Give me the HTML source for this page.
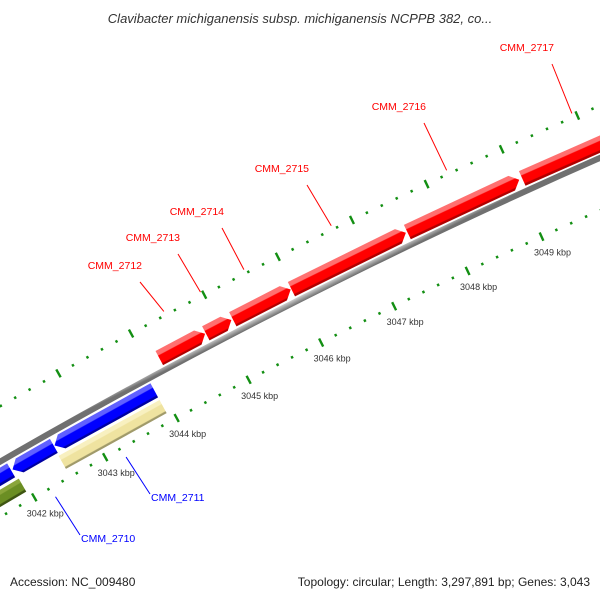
<!DOCTYPE html>
<html><head><meta charset="utf-8"><style>
html,body{margin:0;padding:0;background:#fff;}
svg{display:block;font-family:"Liberation Sans",sans-serif;}
</style></head><body>
<svg id="chart" width="600" height="600" viewBox="0 0 600 600" xmlns="http://www.w3.org/2000/svg">
<defs id="defs"></defs>
<text x="300" y="23" text-anchor="middle" font-size="13" font-style="italic" fill="#333">Clavibacter michiganensis subsp. michiganensis NCPPB 382, co...</text>
<g id="ticks"></g>
<g id="backbone"></g>
<g id="genes"></g>
<g id="labels"></g>
<text x="10" y="586" font-size="12" fill="#222">Accession: NC_009480</text>
<text x="590" y="586" font-size="12" fill="#222" text-anchor="end">Topology: circular; Length: 3,297,891 bp; Genes: 3,043</text>
</svg>
<script>
// ---- data ----
const geneNames = ["CMM_2712","CMM_2713","CMM_2714","CMM_2715","CMM_2716","CMM_2717","CMM_2711","CMM_2710","yellow-feature","olive-feature","blue-feature-left"];
const geneStarts = [3044.16,3044.80,3045.17,3045.97,3047.54,3049.08,3042.53,3041.94,3042.51,3040.00,3040.00];
const geneEnds   = [3044.79,3045.15,3045.96,3047.52,3049.04,3050.82,3043.92,3042.52,3043.92,3041.95,3041.92];
const geneStrands = [1,1,1,1,1,1,-1,-1,0,0,-1];
const geneTracks = ["fwd","fwd","fwd","fwd","fwd","fwd","rev","rev","rev2","rev2","rev"];
const geneColors = ["red","red","red","red","red","red","blue","blue","yellow","olive","blue"];
const tickMin = 3040, tickMax = 3052, tickStep = 0.2;
const labeledGenes = ["CMM_2712","CMM_2713","CMM_2714","CMM_2715","CMM_2716","CMM_2717","CMM_2711","CMM_2710"];
// layout (screen positions of label text anchors, not data)
const labelAnchorX = [140,178,222,307,424,552,150,80];
const labelAnchorY = [282,254,228,185,123,64,494,535];

// ---- geometry ----
const CX=3050, CY=5741, R=6097;
const A0=-28.36, DEG_PER_KBP=0.772;
function ang(k){return (A0+(k-3044)*DEG_PER_KBP)*Math.PI/180;}
function pt(k,r){const a=ang(k);return [CX+r*Math.sin(a), CY-r*Math.cos(a)];}
const NS="http://www.w3.org/2000/svg";
function mk(tag){return document.createElementNS(NS,tag);}
const palette={
 red:["#ff7070","#ff0000","#b00000"],
 blue:["#6060ff","#0000ff","#0000a0"],
 yellow:["#f8f0c0","#efe3a0","#a09a6a"],
 olive:["#8aa53a","#6b8e23","#3e5512"]
};
const trackR={fwd:[R+5,R+21],rev:[R-21,R-5],rev2:[R-39,R-24]};
const defs=document.getElementById('defs');

// ticks
const tg=document.getElementById('ticks');
const nT=Math.round((tickMax-tickMin)/tickStep);
for(let i=0;i<=nT;i++){
  const k=tickMin+i*tickStep;
  const major=Math.abs(k-Math.round(k))<1e-6;
  [R+48,R-48].forEach(function(rr){
    const h=major?4.5:1.3;
    const p1=pt(k,rr-h),p2=pt(k,rr+h);
    const l=mk('line');
    
    
    l.setAttribute('x1',p1[0]);l.setAttribute('y1',p1[1]);
    l.setAttribute('x2',p2[0]);l.setAttribute('y2',p2[1]);
    l.setAttribute('stroke','#138f13');l.setAttribute('stroke-width','2.4');
    tg.appendChild(l);
  });
  if(major){
    const p=pt(k,R-48);
    const t=mk('text');
    
    
    t.setAttribute('x',p[0]+11);t.setAttribute('y',p[1]+19);
    t.setAttribute('text-anchor','middle');t.setAttribute('font-size','9');t.setAttribute('fill','#333');
    t.textContent=Math.round(k)+' kbp';
    tg.appendChild(t);
  }
}

// backbone
(function(){
  const g=document.getElementById('backbone');
  const k1=3038,k2=3054;
  const gr=mk('linearGradient');gr.setAttribute('id','gbb');gr.setAttribute('gradientUnits','userSpaceOnUse');
  const a=pt(3046,R+3),b=pt(3046,R-3);
  gr.setAttribute('x1',a[0]);gr.setAttribute('y1',a[1]);gr.setAttribute('x2',b[0]);gr.setAttribute('y2',b[1]);
  [['0','#d0d0d0'],['0.4','#a8a8a8'],['1','#707070']].forEach(function(s){const st=mk('stop');st.setAttribute('offset',s[0]);st.setAttribute('stop-color',s[1]);gr.appendChild(st);});
  defs.appendChild(gr);
  const pts=[];
  for(let k=k1;k<=k2;k+=0.5)pts.push(pt(k,R+3));
  for(let k=k2;k>=k1;k-=0.5)pts.push(pt(k,R-3));
  const p=mk('polygon');
  
  
  p.setAttribute('points',pts.map(q=>q.join(',')).join(' '));
  p.setAttribute('fill','url(#gbb)');
  g.appendChild(p);
})();

// genes
const gg=document.getElementById('genes');
const geneMid={};
for(let i=0;i<geneNames.length;i++){
  const k1=geneStarts[i],k2=geneEnds[i],s=geneStrands[i];
  const rr=trackR[geneTracks[i]],r1=rr[0],r2=rr[1],rm=(r1+r2)/2;
  geneMid[geneNames[i]]=[(k1+k2)/2,geneTracks[i]];
  const aL=0.1;
  let pts=[];
  if(s===1){
    const kb=Math.max(k1,k2-aL);
    pts=[pt(k1,r1),pt(k1,r2),pt(kb,r2),pt(k2,rm),pt(kb,r1)];
  }else if(s===-1){
    const kb=Math.min(k2,k1+aL);
    pts=[pt(k1,rm),pt(kb,r2),pt(k2,r2),pt(k2,r1),pt(kb,r1)];
  }else{
    pts=[pt(k1,r1),pt(k1,r2),pt(k2,r2),pt(k2,r1)];
  }
  const c=palette[geneColors[i]];
  const gid='gg'+i;
  const gr=mk('linearGradient');gr.setAttribute('id',gid);gr.setAttribute('gradientUnits','userSpaceOnUse');
  const a=pt((k1+k2)/2,r2),b=pt((k1+k2)/2,r1);
  gr.setAttribute('x1',a[0]);gr.setAttribute('y1',a[1]);gr.setAttribute('x2',b[0]);gr.setAttribute('y2',b[1]);
  [['0',c[0]],['0.3',c[0]],['0.36',c[1]],['0.84',c[1]],['0.9',c[2]],['1',c[2]]].forEach(function(st0){const st=mk('stop');st.setAttribute('offset',st0[0]);st.setAttribute('stop-color',st0[1]);gr.appendChild(st);});
  defs.appendChild(gr);
  const p=mk('polygon');
  
  
  p.setAttribute('points',pts.map(q=>q.join(',')).join(' '));
  p.setAttribute('fill','url(#'+gid+')');
  gg.appendChild(p);
}

// labels
const lg=document.getElementById('labels');
for(let i=0;i<labeledGenes.length;i++){
  const nm=labeledGenes[i];
  const m=geneMid[nm];
  const fwd=m[1]==='fwd';
  const s=pt(m[0],fwd?R+52:R-58);
  const ex=labelAnchorX[i],ey=labelAnchorY[i];
  const col=fwd?'#ff0000':'#0000ff';
  const l=mk('line');
  
  
  l.setAttribute('x1',s[0]);l.setAttribute('y1',s[1]);l.setAttribute('x2',ex);l.setAttribute('y2',ey);
  l.setAttribute('stroke',col);l.setAttribute('stroke-width','1');
  lg.appendChild(l);
  const t=mk('text');
  
  
  t.setAttribute('font-size','10.5');t.setAttribute('fill',col);
  if(fwd){t.setAttribute('x',ex+2);t.setAttribute('y',ey-13);t.setAttribute('text-anchor','end');}
  else{t.setAttribute('x',ex+1);t.setAttribute('y',ey+7);t.setAttribute('text-anchor','start');}
  t.textContent=nm;
  lg.appendChild(t);
}
</script>
</body></html>
